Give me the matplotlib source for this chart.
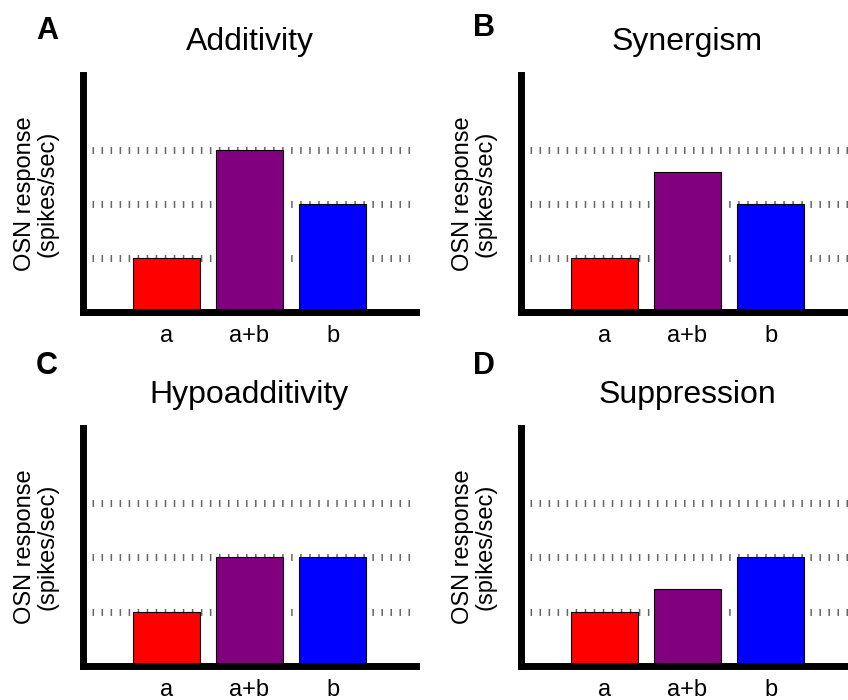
import numpy as np
import matplotlib.pyplot as plt

plt.rcParams['font.family'] = ['Liberation Sans', 'DejaVu Sans']

# data
categories = ['a', 'a+b', 'b']
titles = ['Additivity', 'Synergism', 'Hypoadditivity', 'Suppression']
letters = ['A', 'B', 'C', 'D']
values = [
    [1.0, 3.0, 2.0],
    [1.0, 2.59, 2.0],
    [1.0, 2.0, 2.0],
    [1.0, 1.42, 2.0],
]
grid_levels = [1, 2, 3]
bar_colors = ['#ff0000', '#800080', '#0000ff']

W, H = 848, 700


def main():
    fig = plt.figure(figsize=(W / 100, H / 100), dpi=100)

    # axes boxes in pixels: left, top, width, height
    boxes = [(83, 75, 333, 237), (521, 75, 333, 237),
             (83, 428, 333, 238), (521, 428, 333, 238)]
    title_y = [42, 42, 395, 395]
    letter_pos = [(47, 31), (484, 28), (47, 366), (484, 366)]

    for i in range(4):
        l, t, w, h = boxes[i]
        ax = fig.add_axes([l / W, 1 - (t + h) / H, w / W, h / H])
        x = np.arange(len(categories))
        ax.bar(x, values[i], width=0.8, color=bar_colors,
               edgecolor='black', linewidth=0.8, zorder=2)
        for g in grid_levels:
            ax.axhline(g, color='0.4', linewidth=5,
                       linestyle=(0, (0.22, 1.08)), zorder=1)
        ax.set_xlim(-1, 3)
        ax.set_ylim(0, 4.38)
        ax.set_xticks(x)
        ax.set_xticklabels(categories, fontsize=17)
        ax.tick_params(axis='x', length=0, pad=9)
        ax.set_yticks([])
        for s in ['top', 'right']:
            ax.spines[s].set_visible(False)
        for s in ['left', 'bottom']:
            ax.spines[s].set_linewidth(5)
            ax.spines[s].set_zorder(3)
        ax.text(-0.14, 0.5, 'OSN response\n(spikes/sec)', transform=ax.transAxes,
                rotation=90, ha='center', va='center', fontsize=17,
                multialignment='center', linespacing=1.05)

        fig.text((l + w / 2) / W, 1 - title_y[i] / H, titles[i],
                 ha='center', va='center', fontsize=23)
        lx, ly = letter_pos[i]
        fig.text(lx / W, 1 - ly / H, letters[i], ha='center', va='center',
                 fontsize=22, fontweight='bold')

    plt.savefig('out.png', dpi=100)


if __name__ == '__main__':
    main()
